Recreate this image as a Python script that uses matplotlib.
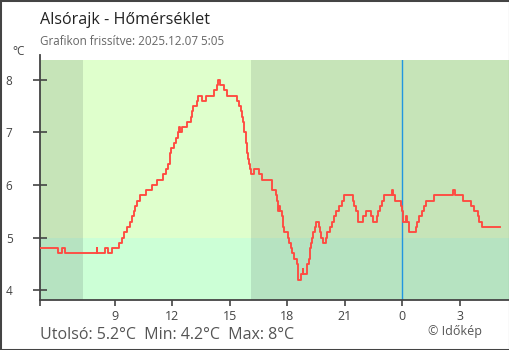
import matplotlib
matplotlib.use('Agg')
from matplotlib import pyplot as plt
from matplotlib.patches import Rectangle

plt.rcParams['font.family'] = ['Open Sans', 'DejaVu Sans']

# time of each change (hours since midnight of the first day) and the temperature from then on
hours = [5.10, 6.06, 6.27, 6.41, 8.06, 8.10, 8.51, 8.63, 8.84, 9.22,
         9.40, 9.50, 9.63, 9.80, 9.92, 9.99, 10.06, 10.18, 10.32, 10.62,
         10.93, 11.22, 11.50, 11.66, 11.80, 11.87, 11.94, 12.09, 12.18, 12.29,
         12.35, 12.41, 12.53, 12.79, 12.96, 13.05, 13.10, 13.28, 13.36, 13.54,
         13.75, 14.18, 14.32, 14.40, 14.49, 14.72, 14.87, 15.40, 15.48, 15.57,
         15.63, 15.68, 15.75, 15.83, 15.89, 15.95, 16.01, 16.06, 16.13, 16.28,
         16.54, 16.66, 17.19, 17.40, 17.45, 17.50, 17.57, 17.62, 17.71, 17.80,
         17.85, 18.03, 18.09, 18.18, 18.27, 18.35, 18.49, 18.55, 18.70, 18.81,
         18.84, 19.02, 19.14, 19.19, 19.24, 19.31, 19.36, 19.45, 19.50, 19.66,
         19.71, 19.77, 19.88, 20.01, 20.09, 20.23, 20.32, 20.44, 20.55, 20.72,
         20.84, 20.98, 21.42, 21.48, 21.59, 21.71, 21.97, 22.09, 22.36, 22.49,
         22.67, 22.75, 22.84, 22.93, 23.07, 23.45, 23.53, 23.62, 23.92, 23.97,
         24.03, 24.20, 24.27, 24.35, 24.70, 24.79, 24.88, 25.02, 25.14, 25.22,
         25.67, 26.63, 26.75, 27.19, 27.57, 27.74, 27.97, 28.02, 28.18, 29.10]
temps = [4.8, 4.7, 4.8, 4.7, 4.8, 4.7, 4.8, 4.7, 4.8, 4.9,
         5.0, 5.1, 5.2, 5.3, 5.4, 5.5, 5.6, 5.7, 5.8, 5.9,
         6.0, 6.1, 6.2, 6.3, 6.4, 6.6, 6.7, 6.8, 6.9, 7.0,
         7.1, 7.0, 7.1, 7.2, 7.3, 7.4, 7.5, 7.6, 7.7, 7.6,
         7.7, 7.8, 7.9, 8.0, 7.9, 7.8, 7.7, 7.6, 7.5, 7.4,
         7.3, 7.2, 7.0, 6.8, 6.6, 6.5, 6.4, 6.3, 6.2, 6.3,
         6.2, 6.1, 5.9, 5.8, 5.7, 5.5, 5.6, 5.5, 5.4, 5.2,
         5.1, 5.0, 4.9, 4.8, 4.7, 4.6, 4.5, 4.2, 4.3, 4.4,
         4.3, 4.5, 4.6, 4.8, 4.9, 5.0, 5.1, 5.2, 5.3, 5.2,
         5.1, 5.0, 4.9, 5.0, 5.1, 5.2, 5.3, 5.4, 5.5, 5.6,
         5.7, 5.8, 5.7, 5.6, 5.5, 5.3, 5.4, 5.5, 5.4, 5.3,
         5.4, 5.5, 5.6, 5.7, 5.8, 5.9, 5.8, 5.7, 5.6, 5.5,
         5.3, 5.4, 5.3, 5.1, 5.2, 5.3, 5.4, 5.5, 5.6, 5.7,
         5.8, 5.9, 5.8, 5.7, 5.6, 5.5, 5.4, 5.3, 5.2, 5.2]

tick_hours = [5.10, 9, 12, 15, 18, 21, 24, 27]
tick_labels = ['', '9', '12', '15', '18', '21', '0', '3']
temp_ticks = [4, 5, 6, 7, 8]

sunrise = 7.35
sunset = 16.11
band_limit = 5.0
now_line = 24.0

x_range = (5.10, 29.57)
y_range = (3.81, 8.38)

fig = plt.figure(figsize=(5.1, 3.5), dpi=100)
ax = fig.add_axes([40 / 510, 50 / 350, 469 / 510, 240 / 350])
ax.set_xlim(*x_range)
ax.set_ylim(*y_range)

# night / day background, split at 5 degrees
ax.axhspan(y_range[0], band_limit, color='#b6e3c1', lw=0, zorder=0)
ax.axhspan(band_limit, y_range[1], color='#c6e4b8', lw=0, zorder=0)
ax.fill_between([sunrise, sunset], y_range[0], band_limit, color='#ccffd6', lw=0, zorder=0)
ax.fill_between([sunrise, sunset], band_limit, y_range[1], color='#dfffcc', lw=0, zorder=0)

ax.axvline(now_line, color='#2196e0', lw=1, zorder=2)
ax.plot(hours, temps, drawstyle='steps-post', color='#ff4a40', lw=1.35, zorder=3)

for side in ['top', 'right']:
    ax.spines[side].set_visible(False)
for side in ['left', 'bottom']:
    ax.spines[side].set_color('#444444')
    ax.spines[side].set_linewidth(1.3)
ax.spines['left'].set_bounds(y_range[0], 8.48)

ax.set_xticks(tick_hours)
ax.set_xticklabels(tick_labels)
ax.set_yticks(temp_ticks)
ax.tick_params(axis='x', direction='out', length=4.5, width=1.2, color='#444444',
               labelsize=9, labelcolor='#444444', pad=3)
ax.tick_params(axis='y', direction='inout', length=9.5, width=1.2, color='#444444',
               labelsize=8.5, labelcolor='#444444', pad=15)

fig.text(40 / 510, 1 - 24 / 350, 'Alsórajk - Hőmérséklet', fontsize=11.6, color='#222222')
fig.text(40 / 510, 1 - 45 / 350, 'Grafikon frissítve: 2025.12.07 5:05', fontsize=8.4, color='#666666')
fig.text(12 / 510, 1 - 55 / 350, '°C', fontsize=8.5, color='#444444')

last, low, high = temps[-1], min(temps), max(temps)
fig.text(40 / 510, 1 - 339 / 350,
         f'Utolsó: {last:g}°C  Min: {low:g}°C  Max: {high:g}°C', fontsize=11.5, color='#555555')
fig.text(482 / 510, 1 - 335 / 350, '© Időkép', fontsize=9, color='#555555', ha='right')

fig.patches.append(Rectangle((0, 0), 1, 1, transform=fig.transFigure, fill=False,
                             edgecolor='#444444', lw=2.2))

fig.savefig('out.png', dpi=100)
